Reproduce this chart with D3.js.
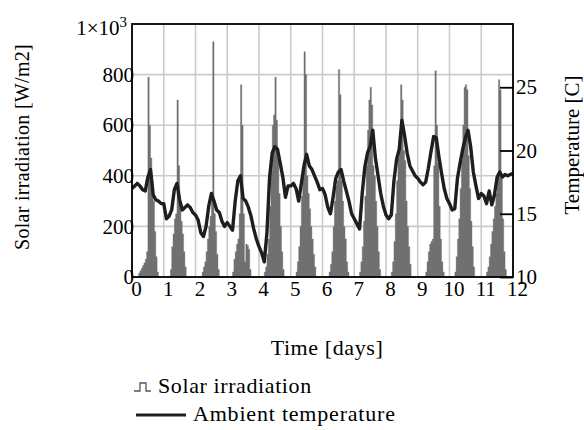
<!DOCTYPE html>
<html>
<head>
<meta charset="utf-8">
<script src="https://cdn.jsdelivr.net/npm/d3@7"></script>
<style>
body { margin:0; background:#fff; }
svg text { font-family:"Liberation Serif","Times New Roman",serif; fill:#000; }
</style>
</head>
<body>
<div id="graph"></div>
<script>
// hourly solar irradiation [W/m2], one row of 24 values per day
var solarHourly = [
  [0,0,0,0,0,15,25,35,45,55,70,100,790,600,470,380,300,180,80,20,0,0,0,0],
  [0,0,0,0,0,30,120,170,230,250,700,440,300,220,170,100,40,0,0,0,0,0,0,0],
  [0,0,0,0,0,20,40,60,100,150,200,240,320,930,250,180,90,30,0,0,0,0,0,0],
  [0,0,0,0,20,70,100,130,150,250,760,600,250,60,130,125,110,30,0,0,0,0,0,0],
  [0,0,0,0,20,40,90,150,280,420,600,640,790,620,480,330,200,100,30,0,0,0,0,0],
  [0,0,0,0,20,60,120,200,320,430,890,800,400,330,270,200,150,90,40,0,0,0,0,0],
  [0,0,0,0,0,20,50,100,200,300,360,380,820,720,380,300,200,150,60,20,0,0,0,0],
  [0,0,0,0,20,60,120,220,320,440,580,700,750,680,440,400,300,200,100,30,0,0,0,0],
  [0,0,0,0,20,60,140,250,380,470,500,760,700,500,460,300,200,120,50,0,0,0,0,0],
  [0,0,0,0,0,0,20,60,100,130,140,150,440,815,600,450,280,150,60,20,0,0,0,0],
  [0,0,0,0,20,80,150,230,350,460,600,750,760,740,480,350,220,120,40,0,0,0,0,0],
  [0,0,0,0,20,40,80,130,180,230,280,330,400,780,740,400,230,100,30,0,0,0,0,0]
];

// ambient temperature [C], every 2 hours, 12 values per day
var tempTwoHourly = [
  [17.0,17.2,17.4,17.2,16.9,16.8,17.9,18.5,16.5,16.1,16.0,15.8],
  [15.8,14.6,14.8,15.3,16.9,17.4,16.1,15.3,15.5,15.7,15.5,15.1],
  [14.9,14.5,13.5,13.2,14.0,15.6,16.6,16.0,15.3,15.1,14.4,14.0],
  [14.3,14.0,13.7,16.0,17.6,18.0,16.2,16.0,15.5,14.8,13.8,13.0],
  [12.4,11.9,11.2,13.5,17.9,19.8,20.3,20.1,19.0,17.9,16.3,17.2],
  [17.2,17.4,17.0,16.0,17.4,18.8,19.7,18.8,18.5,18.0,17.5,16.9],
  [17.0,16.5,15.5,15.0,16.3,17.8,18.3,18.5,17.6,16.8,16.0,15.0],
  [14.6,14.2,13.8,16.6,18.7,19.8,20.3,21.6,19.4,18.0,16.6,15.6],
  [14.9,14.6,14.9,17.6,19.3,20.1,22.4,21.2,19.8,18.8,18.4,18.0],
  [17.8,17.5,17.3,17.5,18.6,19.9,21.1,21.0,19.5,18.2,17.0,16.2],
  [15.8,15.3,15.4,17.8,19.0,20.1,21.0,21.6,20.3,18.3,17.2,16.2],
  [16.6,16.4,15.8,16.8,15.7,16.5,17.9,18.3,17.9,18.1,18.0,18.1]
];
var tempEnd = 18.2;

var dayTicks = [0,1,2,3,4,5,6,7,8,9,10,11,12];
var solarTicks = [0,200,400,600,800,1000];
var tempTicks = [10,15,20,25];
var solarGrid = [200,400,600,800];

var width = 584, height = 430;
var margin = {left:132, right:71, top:24, bottom:153};

var svg = d3.select('#graph').append("svg")
    .attr("width", width).attr("height", height);

var x = d3.scaleLinear().domain([0,12]).range([margin.left, width - margin.right]);
var yL = d3.scaleLinear().domain([0,1000]).range([height - margin.bottom, margin.top]);
var yR = d3.scaleLinear().domain([10,30]).range([height - margin.bottom, margin.top]);

// grid
svg.append("g").selectAll("line").data(dayTicks).enter().append("line")
    .attr("x1", x).attr("x2", x)
    .attr("y1", yL(0)).attr("y2", yL(1000))
    .attr("stroke", "#cbcbcb").attr("stroke-width", 1.6);
svg.append("g").selectAll("line").data(solarGrid).enter().append("line")
    .attr("x1", x(0)).attr("x2", x(12))
    .attr("y1", yL).attr("y2", yL)
    .attr("stroke", "#cbcbcb").attr("stroke-width", 1.6);

// solar bars, drawn as one stepped area (one step per hour)
var solarPts = [];
solarHourly.forEach(function(row, d){
  row.forEach(function(v, h){ solarPts.push({t: d + h/24, v: v}); });
});
solarPts.push({t: 12, v: 0});
var bars = d3.area().curve(d3.curveStepAfter)
    .x(function(d){ return x(d.t); })
    .y0(yL(0))
    .y1(function(d){ return yL(d.v); });
svg.append("path").datum(solarPts)
    .attr("d", bars)
    .attr("fill", "#707070")
    .attr("stroke", "#707070").attr("stroke-width", 0.4);

// temperature line
var tempPts = [];
tempTwoHourly.forEach(function(row, d){
  row.forEach(function(v, i){ tempPts.push({t: d + i/12, v: v}); });
});
tempPts.push({t: 12, v: tempEnd});
var line = d3.line().x(function(d){ return x(d.t); }).y(function(d){ return yR(d.v); });
svg.append("path").datum(tempPts)
    .attr("d", line)
    .attr("fill", "none").attr("stroke", "#1e1e1e")
    .attr("stroke-width", 3.4).attr("stroke-linejoin", "round");

// frame
svg.append("rect")
    .attr("x", x(0)).attr("y", yL(1000))
    .attr("width", x(12) - x(0)).attr("height", yL(0) - yL(1000))
    .attr("fill", "none").attr("stroke", "#000").attr("stroke-width", 1.8);

// axes
var xAxis = d3.axisBottom(x).tickValues(dayTicks).tickSize(0).tickPadding(4);
var gx = svg.append("g").attr("transform", "translate(0," + yL(0) + ")").call(xAxis);
gx.select(".domain").remove();
gx.selectAll("text").attr("dx", 4).style("font-size", "21px");

var yAxisL = d3.axisLeft(yL).tickValues(solarTicks).tickSize(0).tickPadding(-2)
    .tickFormat(function(d){ return d === 1000 ? "" : d; });
var gl = svg.append("g").attr("transform", "translate(" + x(0) + ",0)").call(yAxisL);
gl.select(".domain").remove();
gl.selectAll("text").style("font-size", "21px");
var topLabel = gl.selectAll(".tick").filter(function(d){ return d === 1000; }).select("text")
    .attr("dx", -7).attr("y", 4);
topLabel.append("tspan").text("1×10");
topLabel.append("tspan").attr("dy", "-0.55em").style("font-size", "15px").text("3");

var yAxisR = d3.axisRight(yR).tickValues(tempTicks).tickSizeInner(-13).tickSizeOuter(0).tickPadding(3);
var gr = svg.append("g").attr("transform", "translate(" + x(12) + ",0)").call(yAxisR);
gr.select(".domain").remove();
gr.selectAll("line").attr("stroke-width", 1.8);
gr.selectAll("text").style("font-size", "21px");

// titles
svg.append("text")
    .attr("transform", "translate(29,147) rotate(-90)")
    .attr("text-anchor", "middle").style("font-size", "20px").style("letter-spacing", "0.3px")
    .text("Solar irradiation [W/m2]");
svg.append("text")
    .attr("transform", "translate(579,145) rotate(-90)")
    .attr("text-anchor", "middle").style("font-size", "21px")
    .text("Temperature [C]");
svg.append("text")
    .attr("x", 327).attr("y", 355)
    .attr("text-anchor", "middle").style("font-size", "22px").style("letter-spacing", "0.6px")
    .text("Time [days]");

// legend
svg.append("path")
    .attr("d", "M134,391H140V383H146V391H151")
    .attr("fill", "none").attr("stroke", "#555").attr("stroke-width", 1.3);
svg.append("text").attr("x", 158).attr("y", 393)
    .style("font-size", "22px").style("letter-spacing", "0.6px")
    .text("Solar irradiation");
svg.append("line")
    .attr("x1", 136).attr("x2", 186).attr("y1", 415).attr("y2", 415)
    .attr("stroke", "#1e1e1e").attr("stroke-width", 3);
svg.append("text").attr("x", 193).attr("y", 421)
    .style("font-size", "22px").style("letter-spacing", "0.8px")
    .text("Ambient temperature");
</script>
</body>
</html>
